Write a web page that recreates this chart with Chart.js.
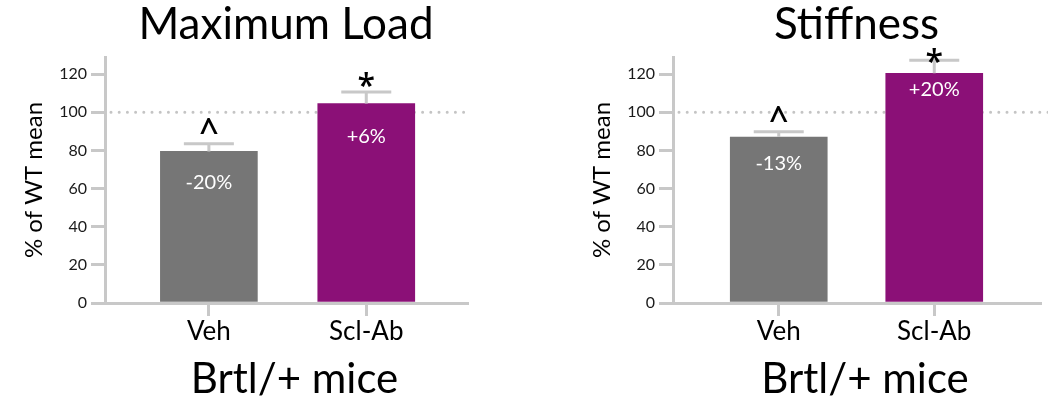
<!DOCTYPE html>
<html>
<head>
<meta charset="utf-8">
<script src="https://cdn.jsdelivr.net/npm/chart.js@4.4.1/dist/chart.umd.min.js"></script>
<style>
  body { margin: 0; background: #fff; }
  #wrap { position: relative; width: 1048px; height: 403px; overflow: hidden; }
  .panel { position: absolute; top: 0; width: 480px; height: 403px; }
</style>
</head>
<body>
<div id="wrap">
  <div class="panel" style="left:0"><canvas id="loadChart" width="480" height="403"></canvas></div>
  <div class="panel" style="left:568px"><canvas id="stiffChart" width="480" height="403"></canvas></div>
</div>
<script>
const groups = ['Veh', 'Scl-Ab'];
const loadMeans = [79.5, 104.6];
const loadErrors = [4, 6];
const loadChanges = ['-20%', '+6%'];
const loadMarks = ['^', '*'];
const stiffMeans = [87, 120.5];
const stiffErrors = [2.8, 6.8];
const stiffChanges = ['-13%', '+20%'];
const stiffMarks = ['^', '*'];
const wtMean = 100;
const yTickValues = [0, 20, 40, 60, 80, 100, 120];
const xTitle = 'Brtl/+ mice';

const FONT = 'Lato, "Open Sans", sans-serif';
const AXIS_GREY = '#c8c8c8';
const barColors = ['#767676', '#8b1077'];

// draw text so that the glyph box is centred on cy
function drawCentered(ctx, text, x, cy) {
    ctx.textBaseline = 'alphabetic';
    const m = ctx.measureText(text);
    const base = cy - (m.actualBoundingBoxDescent - m.actualBoundingBoxAscent) / 2;
    ctx.fillText(text, x, base);
}

const barExtras = {
    id: 'barExtras',
    beforeDatasetsDraw(chart, args, opts) {
        const { ctx, chartArea, scales: { y } } = chart;
        const yy = y.getPixelForValue(opts.refLine);
        ctx.save();
        ctx.strokeStyle = '#c4c4c4';
        ctx.lineWidth = 3;
        ctx.lineCap = 'round';
        ctx.setLineDash([0, 8.2]);
        ctx.beginPath();
        ctx.moveTo(chartArea.left + 6, yy);
        ctx.lineTo(opts.lineEnd || chartArea.right, yy);
        ctx.stroke();
        ctx.restore();
    },
    afterDatasetsDraw(chart, args, opts) {
        const { ctx, chartArea, scales: { y } } = chart;
        const meta = chart.getDatasetMeta(0);
        const ds = chart.data.datasets[0];
        ctx.save();
        meta.data.forEach((bar, i) => {
            const v = ds.data[i].y;
            const top = y.getPixelForValue(v);
            const cap = y.getPixelForValue(v + opts.errors[i]);
            // error bar
            ctx.strokeStyle = AXIS_GREY;
            ctx.lineWidth = 3;
            ctx.beginPath();
            ctx.moveTo(bar.x, top);
            ctx.lineTo(bar.x, cap);
            ctx.moveTo(bar.x - 25, cap);
            ctx.lineTo(bar.x + 25, cap);
            ctx.stroke();
            // change label inside bar
            ctx.fillStyle = '#ffffff';
            ctx.textAlign = 'center';
            ctx.font = '20px ' + FONT;
            drawCentered(ctx, opts.changes[i], bar.x, top + opts.labelOffsets[i]);
            // significance mark
            ctx.fillStyle = '#000000';
            ctx.font = opts.marks[i] === '*' ? '600 32px "Open Sans", sans-serif' : '600 34px "Open Sans", sans-serif';
            drawCentered(ctx, opts.marks[i], bar.x, cap - opts.markOffsets[i]);
        });
        // panel title and group title
        const mid = (chartArea.left + chartArea.right) / 2;
        ctx.fillStyle = '#000000';
        ctx.textAlign = 'center';
        ctx.textBaseline = 'alphabetic';
        ctx.font = '44px ' + FONT;
        ctx.fillText(opts.title, mid, 39);
        ctx.font = '42px ' + FONT;
        ctx.fillText(xTitle, mid + 8.5, 393);
        ctx.restore();
    }
};

function makeChart(id, cfg) {
    return new Chart(document.getElementById(id), {
        type: 'bar',
        data: {
            datasets: [{
                data: cfg.means.map((v, i) => ({ x: i, y: v })),
                backgroundColor: barColors,
                barThickness: 97,
                borderWidth: 0
            }]
        },
        options: {
            responsive: false,
            animation: false,
            devicePixelRatio: 1,
            layout: { padding: { left: 0, right: cfg.padRight, top: 57, bottom: 0 } },
            plugins: {
                legend: { display: false },
                tooltip: { enabled: false },
                title: { display: false },
                barExtras: {
                    title: cfg.title,
                    refLine: wtMean,
                    lineEnd: cfg.lineEnd,
                    errors: cfg.errors,
                    changes: cfg.changes,
                    marks: cfg.marks,
                    labelOffsets: cfg.labelOffsets,
                    markOffsets: cfg.markOffsets
                }
            },
            scales: {
                x: {
                    type: 'linear',
                    offset: false,
                    min: cfg.xMin,
                    max: cfg.xMax,
                    afterBuildTicks: s => { s.ticks = groups.map((_, i) => ({ value: i })); },
                    afterFit: s => { s.height = 100; },
                    ticks: {
                        callback: v => groups[v],
                        color: '#000',
                        font: { family: FONT, size: 26 },
                        padding: 0,
                        maxRotation: 0
                    },
                    grid: { offset: false, drawOnChartArea: false, color: AXIS_GREY, lineWidth: 3, tickLength: 13 },
                    border: { color: AXIS_GREY, width: 3 }
                },
                y: {
                    min: 0,
                    max: 129,
                    afterBuildTicks: s => { s.ticks = yTickValues.map(v => ({ value: v })); },
                    afterFit: s => { s.width = 105; },
                    ticks: {
                        color: '#1a1a1a',
                        font: { family: FONT, size: 16 },
                        padding: 4
                    },
                    grid: { drawOnChartArea: false, color: AXIS_GREY, lineWidth: 3, tickLength: 14 },
                    border: { color: AXIS_GREY, width: 3 },
                    title: {
                        display: true,
                        text: '% of WT mean',
                        color: '#000',
                        font: { family: FONT, size: 24 },
                        padding: { top: 20, bottom: 0 }
                    }
                }
            }
        },
        plugins: [barExtras]
    });
}

makeChart('loadChart', {
    title: 'Maximum Load',
    means: loadMeans,
    errors: loadErrors,
    changes: loadChanges,
    marks: loadMarks,
    labelOffsets: [31, 32],
    markOffsets: [18, 13],
    xMin: -0.66,
    xMax: 1.64,
    padRight: 13
});

makeChart('stiffChart', {
    title: 'Stiffness',
    means: stiffMeans,
    errors: stiffErrors,
    changes: stiffChanges,
    marks: stiffMarks,
    labelOffsets: [26, 16],
    markOffsets: [18, 5],
    xMin: -0.68,
    xMax: 1.68,
    padRight: 8,
    lineEnd: 480
});
</script>
</body>
</html>
